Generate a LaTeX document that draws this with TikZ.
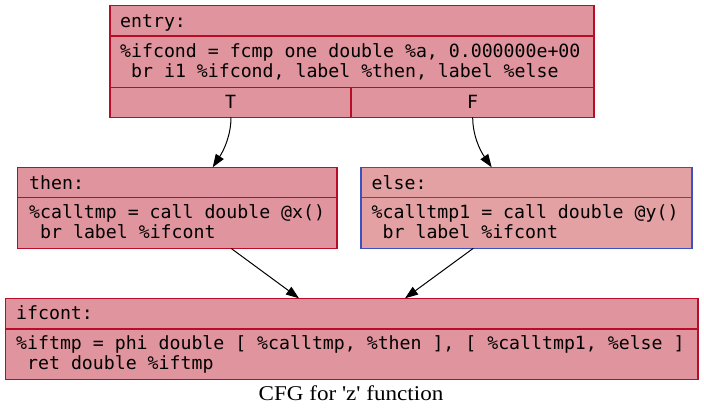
\documentclass[tikz,border=0pt]{standalone}
\usepackage{fontspec}
\usepackage{graphicx}
\newfontfamily\cfgmono{DejaVu Sans Mono}
\newfontfamily\capfont{Liberation Serif}
\usetikzlibrary{arrows.meta}
\definecolor{redline}{HTML}{B70D28}
\definecolor{blueline}{HTML}{3D50C3}
\definecolor{redfill}{RGB}{224,148,158}
\definecolor{elsefill}{RGB}{227,161,163}
\begin{document}
\begin{tikzpicture}[x=1pt,y=-1pt,
  cfgbox/.style={draw=redline, fill=redfill, line width=1.2pt, inner sep=0pt, rectangle},
  elsebox/.style={cfgbox, draw=blueline, fill=elsefill},
  code/.style={font=\cfgmono\fontsize{18.2}{22}\selectfont, inner sep=0pt, anchor=base west},
  codec/.style={code, anchor=base},
  sepline/.style={draw=redline, line width=1.2pt},
  bsepline/.style={draw=blueline, line width=1.2pt},
  cfgedge/.style={draw=black, line width=1pt, -{Triangle[length=13pt,width=9.3pt]}}]
\useasboundingbox (0,0) rectangle (704,416);

% boxes
\node[cfgbox, minimum width=484pt, minimum height=111.6pt] (entry) at (352,61.5) {};
\node[cfgbox, minimum width=319.5pt, minimum height=81pt] (then) at (177.25,207.8) {};
\node[elsebox, minimum width=331pt, minimum height=81pt] (else) at (526.5,207.8) {};
\node[cfgbox, minimum width=692.6pt, minimum height=81pt] (ifcont) at (351.7,338.8) {};

% separators
\draw[sepline] (entry.west |- 0,36) -- (entry.east |- 0,36);
\draw[sepline] (entry.west |- 0,87.3) -- (entry.east |- 0,87.3);
\draw[sepline] (351,87.3) -- (entry.south -| 351,0);
\draw[sepline] (then.west |- 0,197.7) -- (then.east |- 0,197.7);
\draw[bsepline] (else.west |- 0,197.7) -- (else.east |- 0,197.7);
\draw[sepline] (ifcont.west |- 0,329) -- (ifcont.east |- 0,329);

% texts
\node[code] (eh) at (120,27) {entry:};
\node[code] (eb1) at (120,57) {\%ifcond = fcmp one double \%a, 0.000000e+00};
\node[code] (eb2) at (131,77.3) {br i1 \%ifcond, label \%then, label \%else};
\node[codec] (T) at (230.5,108) {T};
\node[codec] (F) at (472.5,108) {F};

\node[code] (th) at (29,189) {then:};
\node[code] (tb1) at (29,218.6) {\%calltmp = call double @x()};
\node[code] (tb2) at (40,238) {br label \%ifcont};

\node[code] (elh) at (371.5,189) {else:};
\node[code] (elb1) at (371.5,218.6) {\%calltmp1 = call double @y()};
\node[code] (elb2) at (382.5,238) {br label \%ifcont};

\node[code] (ih) at (16,319) {ifcont:};
\node[code] (ib1) at (16,349.6) {\%iftmp = phi double [ \%calltmp, \%then ], [ \%calltmp1, \%else ]};
\node[code] (ib2) at (27,369) {ret double \%iftmp};

\node[font=\capfont\fontsize{21}{24}\selectfont, inner sep=0pt, anchor=base] (cap) at (351,400.7) {\scalebox{1.1}[1]{CFG for 'z' function}};

% ports
\coordinate (Tport) at (231,117.3);
\coordinate (Fport) at (472.7,117.3);
\coordinate (thenIn) at (212.7,167.3);
\coordinate (elseIn) at (491.7,167.3);
\coordinate (thenOut) at (231,248.3);
\coordinate (elseOut) at (473.3,248.3);
\coordinate (ifL) at (299,298.3);
\coordinate (ifR) at (405,298.3);

% edges
\draw[cfgedge] (Tport) .. controls (231,135) and (224,150) .. (thenIn);
\draw[cfgedge] (Fport) .. controls (472.7,135) and (479.7,150) .. (elseIn);
\draw[cfgedge] (thenOut) -- (ifL);
\draw[cfgedge] (elseOut) -- (ifR);
\end{tikzpicture}
\end{document}
